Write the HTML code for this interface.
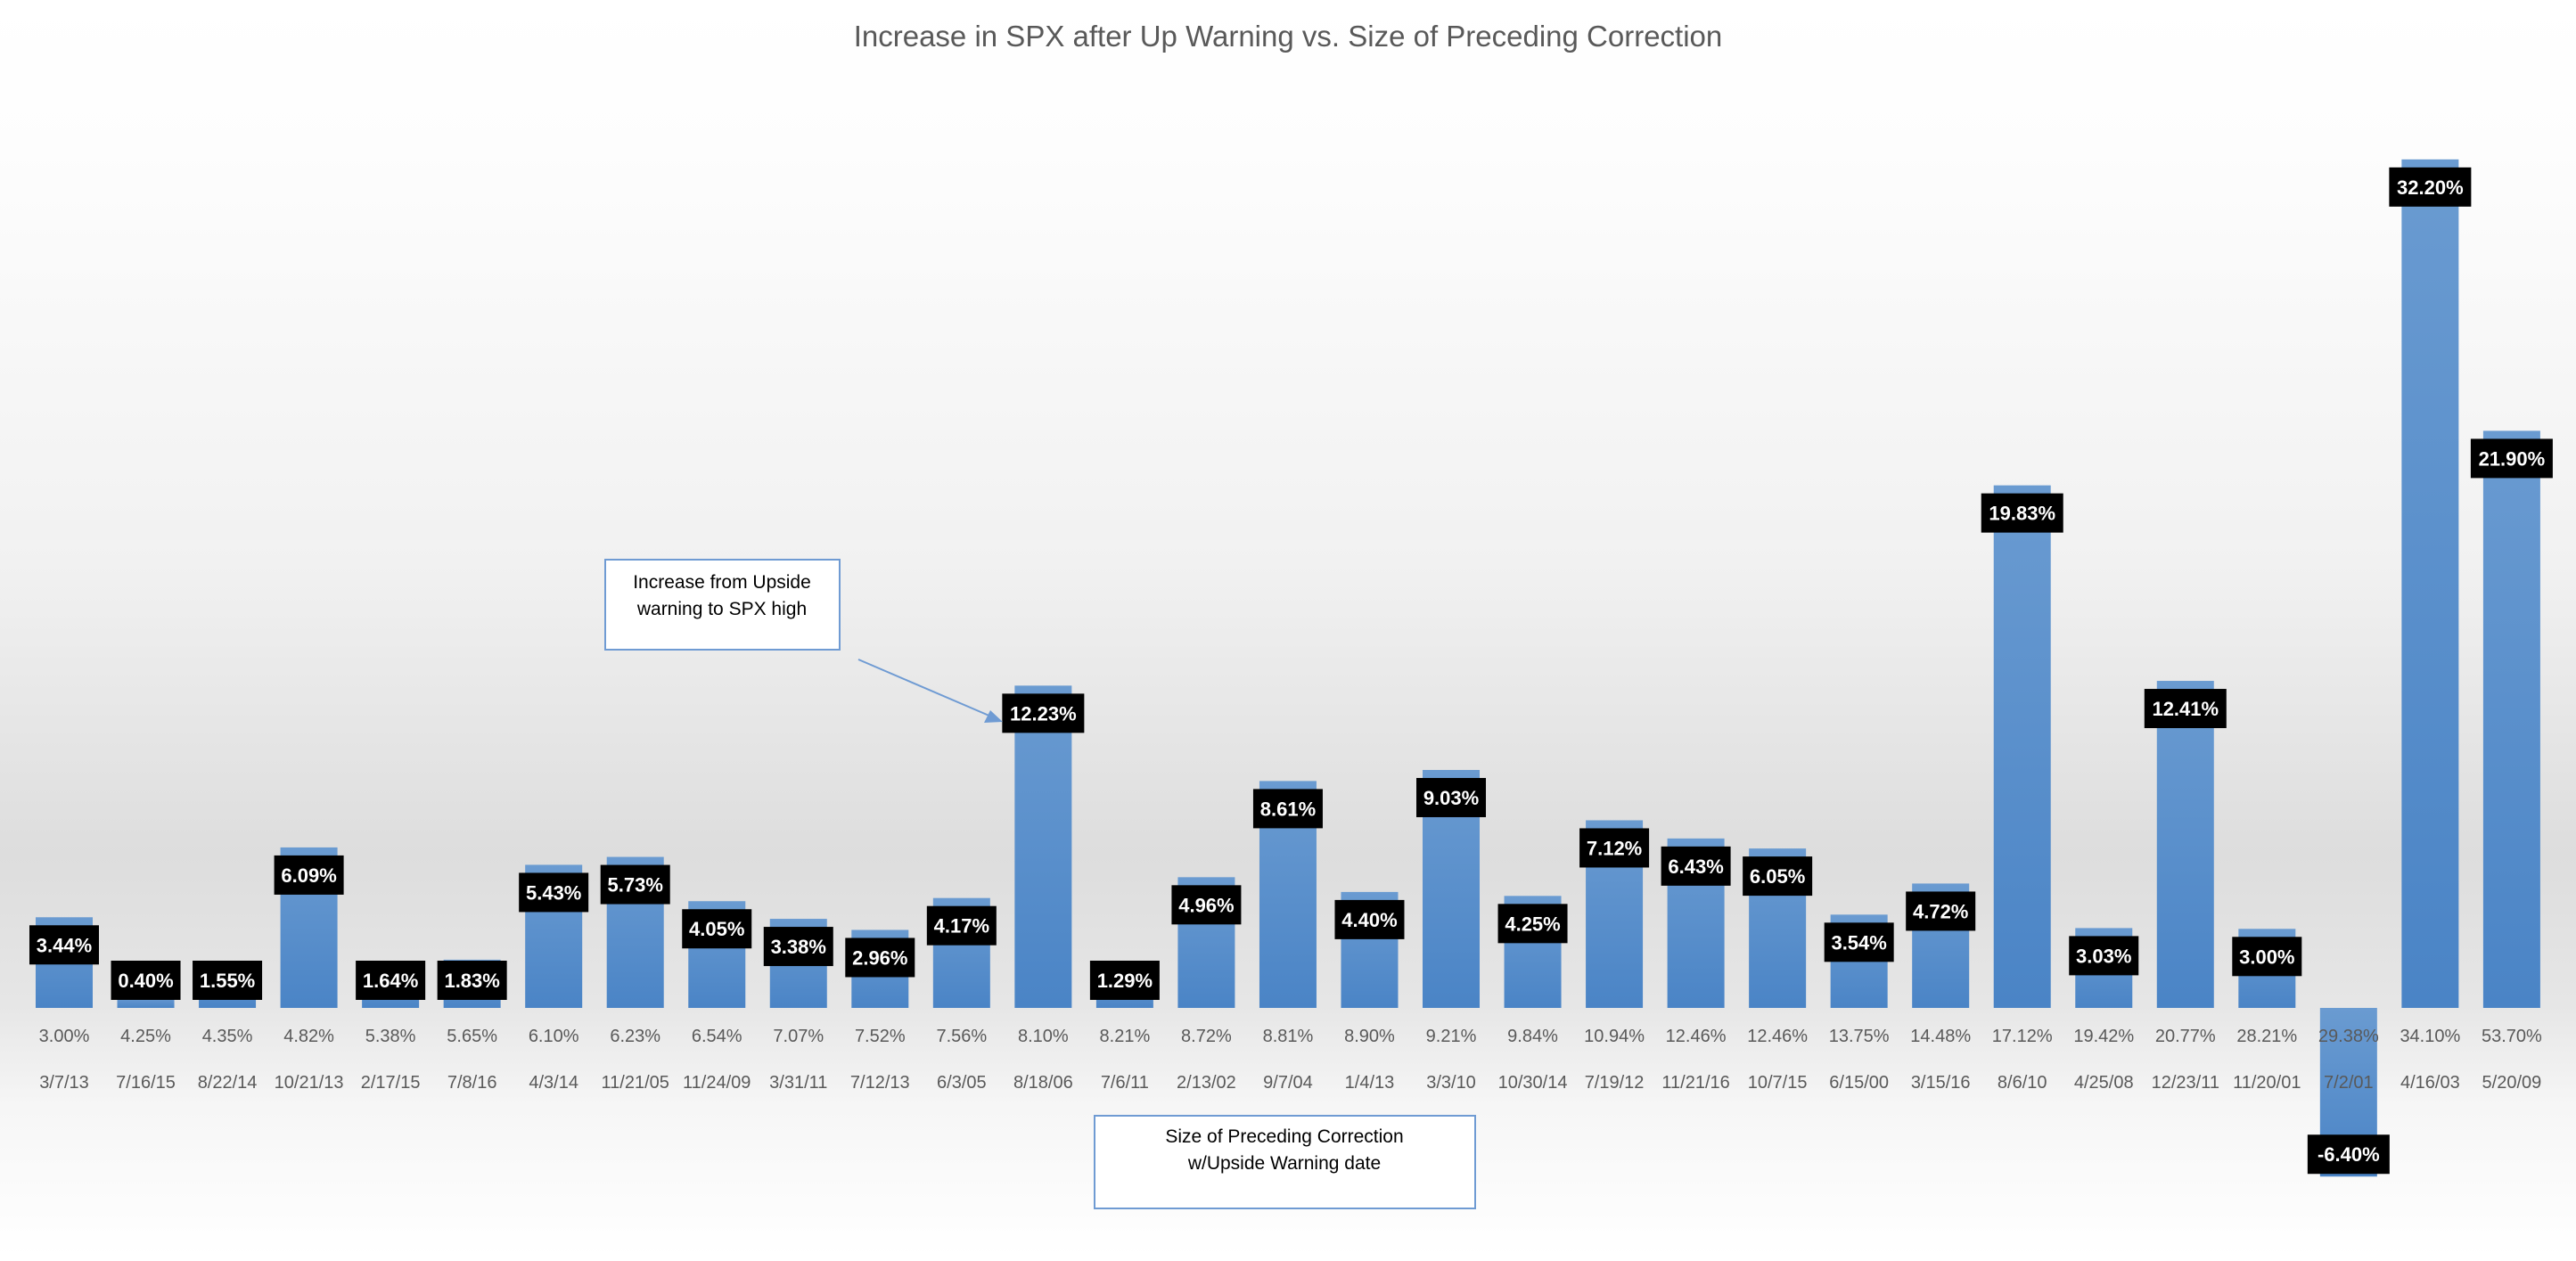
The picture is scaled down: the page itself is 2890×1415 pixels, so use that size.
<!DOCTYPE html>
<html><head><meta charset="utf-8"><style>
html,body{margin:0;padding:0;}
body{width:2890px;height:1410px;overflow:hidden;}
</style></head><body>
<svg width="2890" height="1410" xmlns="http://www.w3.org/2000/svg" font-family="Liberation Sans, sans-serif">
<defs>
<linearGradient id="bg" x1="0" y1="0" x2="0" y2="1">
<stop offset="0" stop-color="#ffffff"/>
<stop offset="0.12" stop-color="#fdfdfd"/>
<stop offset="0.45" stop-color="#f1f1f1"/>
<stop offset="0.68" stop-color="#dddddd"/>
<stop offset="0.80" stop-color="#e6e6e6"/>
<stop offset="0.88" stop-color="#f6f6f6"/>
<stop offset="1" stop-color="#ffffff"/>
</linearGradient>
<linearGradient id="bar" x1="0" y1="0" x2="0" y2="1">
<stop offset="0" stop-color="#6a9bd1"/>
<stop offset="1" stop-color="#4a84c6"/>
</linearGradient>
</defs>
<rect width="2890" height="1410" fill="url(#bg)"/>
<text x="1445" y="52" font-size="33" fill="#595959" text-anchor="middle">Increase in SPX after Up Warning vs. Size of Preceding Correction</text>
<g id="bars"></g>
<rect x="679" y="628" width="263" height="101" fill="#fff" stroke="#6f9bd3" stroke-width="2"/>
<text x="810" y="660" font-size="21" fill="#000" text-anchor="middle">Increase from Upside</text>
<text x="810" y="690" font-size="21" fill="#000" text-anchor="middle">warning to SPX high</text>
<line x1="963" y1="740" x2="1112" y2="804" stroke="#6f9bd3" stroke-width="2"/>
<polygon points="1125,810 1104,811 1111,797" fill="#6f9bd3"/>
<rect x="1228" y="1252" width="427" height="104" fill="#fff" stroke="#6f9bd3" stroke-width="2"/>
<text x="1441" y="1282" font-size="21" fill="#000" text-anchor="middle">Size of Preceding Correction</text>
<text x="1441" y="1312" font-size="21" fill="#000" text-anchor="middle">w/Upside Warning date</text>
</svg>
<script>
(function(){
var v=[3.44,0.40,1.55,6.09,1.64,1.83,5.43,5.73,4.05,3.38,2.96,4.17,12.23,1.29,4.96,8.61,4.40,9.03,4.25,7.12,6.43,6.05,3.54,4.72,19.83,3.03,12.41,3.00,-6.40,32.20,21.90];
var c=["3.00%","4.25%","4.35%","4.82%","5.38%","5.65%","6.10%","6.23%","6.54%","7.07%","7.52%","7.56%","8.10%","8.21%","8.72%","8.81%","8.90%","9.21%","9.84%","10.94%","12.46%","12.46%","13.75%","14.48%","17.12%","19.42%","20.77%","28.21%","29.38%","34.10%","53.70%"];
var d=["3/7/13","7/16/15","8/22/14","10/21/13","2/17/15","7/8/16","4/3/14","11/21/05","11/24/09","3/31/11","7/12/13","6/3/05","8/18/06","7/6/11","2/13/02","9/7/04","1/4/13","3/3/10","10/30/14","7/19/12","11/21/16","10/7/15","6/15/00","3/15/16","8/6/10","4/25/08","12/23/11","11/20/01","7/2/01","4/16/03","5/20/09"];
var g=document.getElementById('bars'),s='',B=1131,k=29.57;
for(var i=0;i<v.length;i++){
 var x=40+i*91.53,cx=x+32,h=v[i]*k,ty,by;
 if(v[i]>=0){h=Math.max(h,12);ty=B-h;s+='<rect x="'+x+'" y="'+ty+'" width="64" height="'+h+'" fill="url(#bar)"/>';by=Math.min(ty+9,1078);}
 else{s+='<rect x="'+x+'" y="'+B+'" width="64" height="'+(-h)+'" fill="url(#bar)"/>';by=B-h-47;}
 var t=v[i].toFixed(2)+'%',w=t.length>5?92:78;
 s+='<rect x="'+(cx-w/2)+'" y="'+by+'" width="'+w+'" height="44" fill="#000"/>';
 s+='<text x="'+cx+'" y="'+(by+30)+'" font-size="22" font-weight="bold" fill="#fff" text-anchor="middle">'+t+'</text>';
 s+='<text x="'+cx+'" y="1169" font-size="20" fill="#595959" text-anchor="middle">'+c[i]+'</text>';
 s+='<text x="'+cx+'" y="1221" font-size="20" fill="#595959" text-anchor="middle">'+d[i]+'</text>';
}
g.innerHTML=s;
})();
</script>
</body></html>
